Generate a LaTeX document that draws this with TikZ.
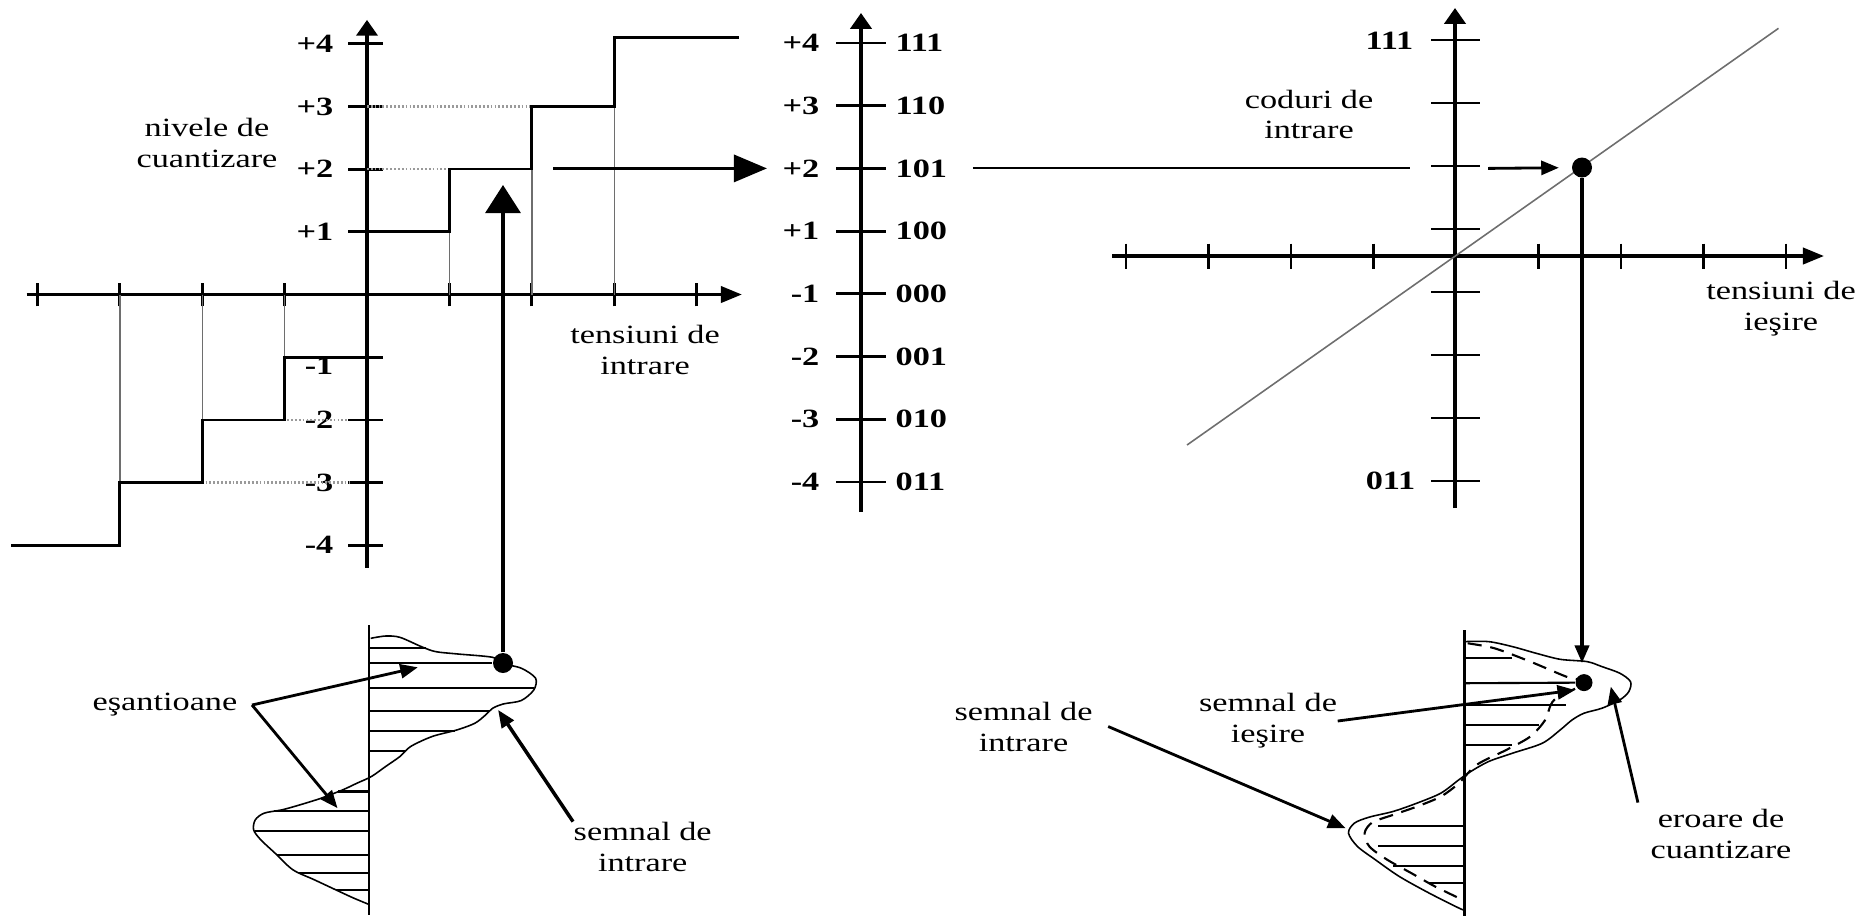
\documentclass[tikz,border=0pt]{standalone}
\usepackage{fontspec}
\setmainfont{Liberation Serif}[FakeStretch=1.3]
\usepackage{tikz}
\usetikzlibrary{arrows.meta, calc}
\definecolor{ink}{HTML}{000000}
\definecolor{guidegray}{HTML}{6E6E6E}
\definecolor{dotgray}{HTML}{9A9A9A}
\tikzset{
    axisline/.style={line width=1pt, color=ink},
    yaxis/.style={axisline, -{Triangle[length=4.5pt, width=6pt]}},
    xaxis/.style={axisline, -{Triangle[length=6pt, width=4.6pt]}},
    tickline/.style={line width=0.8pt},
    ticklbl/.style={font=\fontsize{7.5}{8.8}\selectfont\bfseries, inner sep=0pt},
    textlbl/.style={font=\fontsize{7.5}{8.8}\selectfont, align=center, inner sep=0pt},
    stairline/.style={line width=0.75pt},
    guideline/.style={line width=0.4pt, color=guidegray},
    dotline/.style={line width=0.7pt, color=dotgray, dash pattern=on 0.5pt off 0.6pt},
    levelline/.style={line width=0.6pt},
    diagline/.style={line width=0.45pt, color=guidegray},
    bigarrowv/.style={-{Triangle[length=8pt, width=10pt]}, line width=0.9pt},
    bigarrowh/.style={-{Triangle[length=9.4pt, width=7.7pt]}, line width=0.9pt},
    ptrarrow/.style={-{Triangle[length=5pt, width=4pt]}, line width=0.8pt},
    sampledot/.style={circle, fill=ink, inner sep=0pt, minimum size=#1},
    sampledot/.default=2mm,
    sigline/.style={line width=0.45pt},
    sigaxis/.style={line width=0.8pt},
    hatchline/.style={line width=0.6pt},
    outdash/.style={line width=0.6pt, dash pattern=on 4pt off 2.5pt},
}

\begin{document}
\begin{tikzpicture}[x=0.1mm, y=-0.1mm]
    \useasboundingbox (0,0) rectangle (1875,919);

    % Left graph: quantization levels
    \begin{scope}[shift={(367,294.5)}, x=8.24mm, y=6.27mm]
        \draw[xaxis] (-4.13,0) -- (4.55,0);
        \draw[yaxis] (0,-4.36) -- (0,4.38);
        \foreach \i in {-4,-3,-2,-1,1,2,3,4}
            \draw[tickline] (\i,-0.19) -- (\i,0.19);
        \foreach \j in {-4,-3,-2,-1,1,2,3,4}
            \draw[tickline] (-0.23,\j) -- (0.19,\j);
        \foreach \j/\t in {4/+4, 3/+3, 2/+2, 1/+1, -2/-2, -3/-3, -4/-4}
            \node[ticklbl, anchor=east] (lvlA\j) at (-0.4,\j) {\t};
        \node[ticklbl, anchor=east] (lvlAm1) at (-0.4,-1.14) {-1};

        % guides down to the axis
        \foreach \i in {1,2,3,-1,-2,-3}
            \draw[guideline] (\i,0) -- (\i,\i);
        \draw[dotline] (0,2) -- (1,2);
        \draw[dotline] (0,3) -- (2.2,3);
        \draw[dotline] (-2,-2) -- (-0.22,-2);
        \draw[dotline] (-2.1,-3) -- (-0.22,-3);

        % staircase
        \draw[stairline] (-4.32,-4) -| (-3,-3) -| (-2,-2) -| (-1,-1) -- (0,-1);
        \draw[stairline] (0,1) -| (1,2) -| (2,3) -| (3,4.1) -- (4.51,4.1);
    \end{scope}

    \node[textlbl] (nivlbl) at (207,143) {nivele de\\cuantizare};
    \node[textlbl] (tinlbl) at (645,350) {tensiuni de\\intrare};

    % Middle axis: levels and codes
    \draw[yaxis] (861,512) -- (861,13);
    \foreach \k/\lv/\cd in {0/+4/111, 1/+3/110, 2/+2/101, 3/+1/100, 4/-1/000, 5/-2/001, 6/-3/010, 7/-4/011} {
        \draw[tickline] (836,43+62.7*\k) -- (886,43+62.7*\k);
        \node[ticklbl, anchor=east] (mlv\k) at (820,43+62.7*\k) {\lv};
        \node[ticklbl, anchor=west] (mcd\k) at (895,43+62.7*\k) {\cd};
    }

    % Right graph: codes to output voltage
    \draw[xaxis] (1112,256) -- (1824,256);
    \draw[yaxis] (1455,508) -- (1455,8);
    \foreach \i in {-4,-3,-2,-1,1,2,3,4}
        \draw[tickline] (1456+82.5*\i,243.5) -- (1456+82.5*\i,268.5);
    \foreach \k in {0,...,7}
        \draw[tickline] (1431,40+63*\k) -- (1480,40+63*\k);
    \node[ticklbl, anchor=east] (code111) at (1414,41) {111};
    \node[ticklbl, anchor=east] (code011) at (1416,481) {011};
    \draw[diagline] (1187,445) -- (1778.5,28.3);
    \node[textlbl] (codlbl) at (1309,114.5) {coduri de\\intrare};
    \node[textlbl] (toutlbl) at (1781,309) {tensiuni de\\ieşire};
    \node[sampledot] (dotC) at (1582,167.5) {};

    % Left signal with samples
    \draw[sigaxis] (369,625) -- (369,915);
    \draw[sigline] plot[smooth, tension=0.5] coordinates {
        (370.7,638.3) (385.6,636.0) (399.9,637.3) (421.3,646.6) (435.6,651.6)
        (457.0,653.9) (492.7,657.3) (501.7,663.3) (521.3,668.2) (535.6,678.2)
        (533.8,689.9) (521.3,700.5) (503.5,703.9) (492.7,708.2) (485.6,714.9)
        (474.9,723.2) (457.0,729.9) (432.1,736.5) (410.6,746.5) (399.9,756.5)
        (385.6,766.5) (371.4,776.5) (357.1,783.1) (342.8,789.8) (321.4,798.1)
        (300.0,804.8) (282.1,809.8) (264.3,813.1) (255.3,819.8) (253.6,829.8)
        (260.7,839.7) (275.0,853.1) (292.8,869.7) (314.2,879.7) (339.2,891.4)
        (353.5,898.0) (369.6,904.7)};
    \foreach \y/\xe in {648.3/426, 688.3/534, 710.6/490, 730.6/455, 750.6/406}
        \draw[hatchline] (369,\y) -- (\xe,\y);
    \foreach \y/\xs in {791.5/338, 811.4/274, 831.4/255, 854.7/277, 873/299, 889.7/336}
        \draw[hatchline] (\xs,\y) -- (369,\y);
    \node[sampledot] (dotA) at (503,663) {};
    \draw[hatchline] (369,663) -- (dotA);

    % Sample taken up to the levels
    \coordinate (vtipA) at (503,185);
    \draw[bigarrowv] (dotA) -- (vtipA);
    \coordinate (hstart) at (553,168.4);
    \draw[bigarrowh] (hstart) -- ([xshift=-1.5mm]mlv2.west);

    % Code carried to the right graph
    \coordinate (brk) at (1410,168.4);
    \coordinate (rejoin) at (1488,168.4);
    \draw[levelline] ([xshift=2.5mm]mcd2.east) -- (brk);
    \draw[ptrarrow, shorten >=1.25mm] (rejoin) -- (dotC);

    % Right signal: input and output
    \draw[sigaxis] (1464.7,630) -- (1464.7,916);
    \draw[sigline] plot[smooth, tension=0.5] coordinates {
        (1464.7,641.6) (1488.6,641.6) (1512.4,646.6) (1536.3,653.3) (1560.2,659.3)
        (1587.0,661.6) (1601.9,666.6) (1619.8,673.2) (1630.5,681.6) (1628.8,691.6)
        (1619.8,699.9) (1601.9,708.2) (1584.0,713.2) (1572.1,719.9) (1560.2,729.9)
        (1542.3,743.2) (1512.4,753.2) (1488.6,761.5) (1470.7,771.5) (1458.8,779.8)
        (1440.9,793.1) (1417.0,803.1) (1393.2,811.4) (1369.3,817.1) (1354.4,823.1)
        (1348.5,833.1) (1357.4,846.4) (1375.3,859.7) (1399.2,876.4) (1429.0,893.0)
        (1458.8,908.0) (1464.7,910.3)};
    \draw[outdash] plot[smooth, tension=0.5] coordinates {
        (1467.7,643.3) (1494.6,648.3) (1530.3,661.6) (1566.1,676.6) (1585.2,682.6)
        (1554.2,699.9) (1545.2,719.9) (1530.3,736.5) (1506.5,749.8) (1476.7,764.8)
        (1458.8,783.2) (1440.9,796.5) (1417.0,806.5) (1393.2,814.8) (1372.3,822.4)
        (1364.6,833.1) (1369.3,846.4) (1387.2,859.7) (1411.1,873.0) (1434.9,886.4)
        (1458.8,898.0)};
    \foreach \y/\xe in {658.3/1512, 704.9/1566, 724.9/1539, 744.8/1512}
        \draw[hatchline] (1464.7,\y) -- (\xe,\y);
    \foreach \y/\xs in {826.4/1378, 846.4/1378, 866.4/1393, 883/1429}
        \draw[hatchline] (\xs,\y) -- (1464.7,\y);
    \node[sampledot=1.7mm] (dotD) at (1584,682.6) {};
    \draw[hatchline] (1464.7,683.2) -- (dotD);
    \coordinate (vtipD) at (1582,663);
    \draw[ptrarrow, line width=1pt] (dotC) -- (vtipD);

    % Annotations, left
    \node[textlbl] (esant) at (165,705) {eşantioane};
    \coordinate (esfork) at ([xshift=1.4mm]esant.east);
    \coordinate (esA) at (417.8,667.3);
    \coordinate (esB) at (337.5,808.1);
    \draw[ptrarrow] (esfork) -- (esA);
    \draw[ptrarrow] (esfork) -- (esB);
    \node[textlbl] (sinA) at (642.7,847) {semnal de\\intrare};
    \coordinate (sinAtip) at (498.1,709.9);
    \draw[ptrarrow, line width=1pt] (sinA.north west) -- (sinAtip);

    % Annotations, right
    \node[textlbl] (sinB) at (1023.5,726.5) {semnal de\\intrare};
    \coordinate (sinBtip) at (1345.5,828.1);
    \draw[ptrarrow] ([xshift=1.5mm]sinB.east) -- (sinBtip);
    \node[textlbl] (soutB) at (1268,721) {semnal de\\ieşire};
    \coordinate (soutBtip) at (1575,690);
    \draw[ptrarrow] (soutB.east) -- (soutBtip);
    \node[textlbl] (errB) at (1721,834) {eroare de\\cuantizare};
    \coordinate (errBtip) at (1610.8,686.6);
    \draw[ptrarrow] ([shift={(-12,-6)}]errB.north west) -- (errBtip);

\end{tikzpicture}
\end{document}
